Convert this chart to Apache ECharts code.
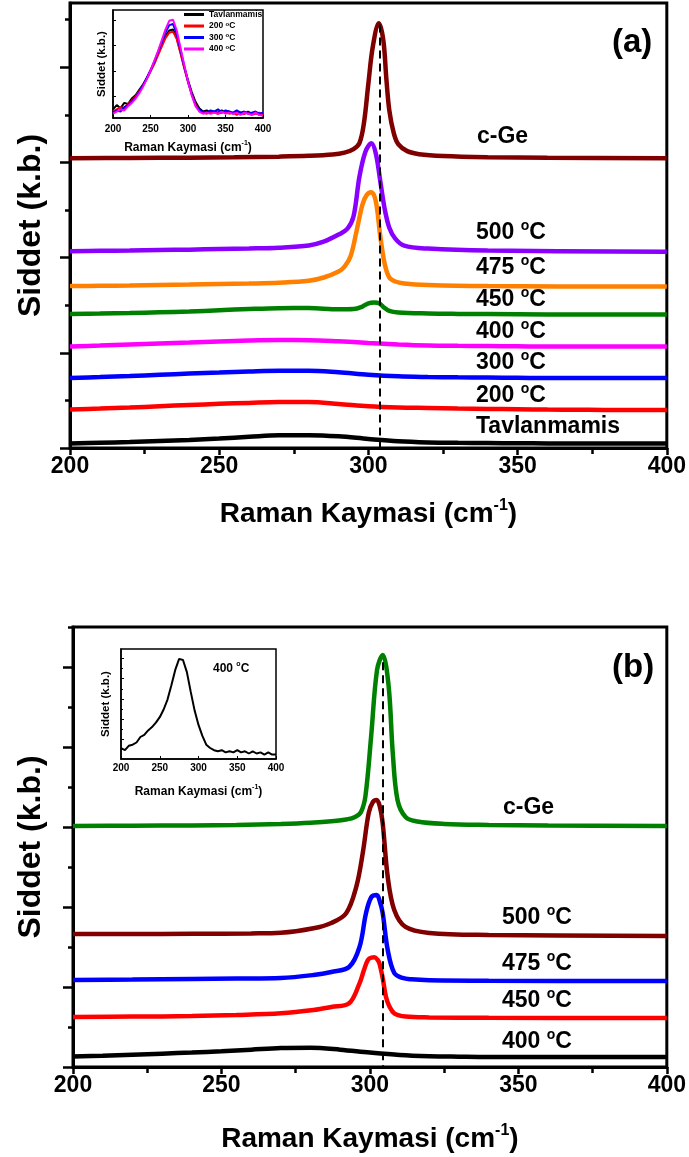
<!DOCTYPE html>
<html>
<head>
<meta charset="utf-8">
<script src="https://cdn.jsdelivr.net/npm/echarts@6/dist/echarts.min.js"></script>
<style>
  html, body { margin: 0; padding: 0; background: #fff; }
  #chart { width: 689px; height: 1157px; }
</style>
</head>
<body>
<div id="chart"></div>
<script>
const FONT = '"Liberation Sans", Arial, Helvetica, sans-serif';

// ---------- Panel (a): main Raman spectra (stacked, arbitrary units) ----------
const broadX = [200, 210, 220, 230, 240, 250, 260, 270, 280, 290, 300, 310, 320, 330, 340, 350, 360, 370, 380, 390, 400];
const aTavY = [0, 8, 16, 26, 37, 53, 70, 86, 88, 76, 48, 24, 12, 7, 5, 3, 1, 0, 0, 0, 0];
const a200Y = [5, 15, 26, 40, 53, 65, 75, 84, 83, 64, 40, 27, 21, 15, 11, 8, 5, 3, 0, 0, 0];
const a300Y = [0, 10, 21, 34, 47, 58, 69, 77, 77, 60, 35, 18, 11, 7, 5, 3, 0, 0, 0, 0, 0];
const a400Y = [0, 10, 21, 32, 42, 53, 63, 68, 67, 55, 38, 22, 11, 7, 5, 3, 0, 0, 0, 0, 0];
const a450X = [200, 210, 220, 230, 240, 250, 260, 270, 280, 290, 295, 298, 300, 302, 303.5, 305, 307, 310, 320, 330, 340, 360, 380, 400];
const a450Y = [5, 10, 16, 24, 32, 45, 58, 67, 68, 55, 58, 84, 118, 126, 120, 80, 38, 21, 11, 7, 5, 0, 0, 0];
const a475X = [200, 210, 220, 230, 240, 250, 260, 270, 280, 285, 290, 292, 294, 296, 298, 299.5, 301, 302.5, 304, 305.5, 307, 309, 312, 320, 340, 400];
const a475Y = [5, 8, 11, 16, 21, 27, 32, 40, 60, 95, 158, 210, 315, 578, 861, 966, 992, 893, 525, 231, 95, 53, 32, 16, 5, 0];
const a500X = [200, 210, 220, 230, 240, 250, 260, 270, 280, 285, 290, 293, 295, 297, 299, 301, 302.5, 304, 305.5, 307, 309, 312, 320, 340, 400];
const a500Y = [5, 8, 11, 16, 21, 27, 33, 42, 65, 105, 179, 242, 368, 788, 1050, 1139, 1029, 735, 441, 252, 137, 63, 32, 11, 0];
const aGeX = [200, 220, 240, 255, 270, 280, 288, 292, 295, 297, 298.5, 300, 301.5, 303.5, 305, 306, 307, 308.5, 310, 313, 317, 325, 340, 360, 400];
const aGeY = [0, 2, 5, 9, 16, 24, 38, 58, 95, 158, 368, 788, 1176, 1418, 1239, 840, 504, 263, 147, 74, 42, 22, 10, 5, 0];
// vertical offsets of the stacked curves
const aOffsets = { tav: 47, t200: 399, t300: 735, t400: 1066, t450: 1402, t475: 1696, t500: 2063, ge: 3045 };
const aPeakLine = 303.8;

// ---------- Panel (a) inset: unshifted low-temperature spectra ----------
const insShift = [200, 205, 210, 215, 220, 225, 230, 235, 240, 245, 250, 255, 260, 265, 270, 275, 280, 285, 290, 295, 300,
                  305, 310, 315, 320, 325, 330, 335, 340, 345, 350, 355, 360, 365, 370, 375, 380, 385, 390, 395, 400];
const insTav = [0.08, 0.12, 0.09, 0.14, 0.13, 0.18, 0.21, 0.26, 0.31, 0.37, 0.44, 0.51, 0.60, 0.68, 0.76, 0.81, 0.82, 0.74, 0.61, 0.47, 0.35,
                0.24, 0.15, 0.09, 0.06, 0.07, 0.05, 0.06, 0.05, 0.07, 0.05, 0.06, 0.04, 0.06, 0.05, 0.04, 0.06, 0.04, 0.05, 0.03, 0.04];
const ins200 = [0.06, 0.08, 0.10, 0.09, 0.13, 0.16, 0.20, 0.25, 0.30, 0.36, 0.43, 0.50, 0.58, 0.66, 0.74, 0.79, 0.80, 0.73, 0.60, 0.46, 0.33,
                0.22, 0.13, 0.07, 0.05, 0.04, 0.06, 0.05, 0.04, 0.05, 0.06, 0.04, 0.05, 0.03, 0.05, 0.04, 0.05, 0.03, 0.04, 0.05, 0.03];
const ins300 = [0.05, 0.07, 0.06, 0.10, 0.12, 0.15, 0.19, 0.24, 0.30, 0.37, 0.44, 0.52, 0.61, 0.70, 0.79, 0.86, 0.87, 0.78, 0.63, 0.48, 0.34,
                0.22, 0.12, 0.07, 0.06, 0.05, 0.07, 0.06, 0.08, 0.05, 0.07, 0.06, 0.05, 0.07, 0.05, 0.06, 0.04, 0.05, 0.06, 0.04, 0.05];
const ins400 = [0.04, 0.06, 0.08, 0.07, 0.11, 0.14, 0.18, 0.23, 0.29, 0.36, 0.44, 0.53, 0.62, 0.72, 0.82, 0.90, 0.91, 0.81, 0.65, 0.49, 0.34,
                0.21, 0.11, 0.06, 0.04, 0.05, 0.04, 0.05, 0.04, 0.06, 0.04, 0.05, 0.04, 0.05, 0.03, 0.05, 0.04, 0.03, 0.05, 0.03, 0.02];

// ---------- Panel (b): main Raman spectra ----------
const b400Y = [6, 15, 28, 42, 56, 72, 92, 112, 116, 92, 55, 25, 10, 4, 0, 0, 0, 0, 0, 0, 0];
const b450X = [200, 220, 240, 255, 270, 281, 287, 293, 296.5, 298, 299.3, 300.5, 301.5, 302.5, 303.2, 304.3, 305.4, 306.5, 308.2, 312, 320, 340, 400];
const b450Y = [13, 18, 25, 38, 59, 100, 138, 184, 434, 600, 725, 756, 759, 731, 684, 500, 266, 150, 59, 19, 8, 3, 0];
const b475X = [200, 220, 240, 255, 270, 281, 287, 293, 296.5, 298.7, 300.5, 302.3, 303.3, 304.3, 306, 308.2, 311, 314, 320, 340, 400];
const b475Y = [13, 18, 25, 31, 38, 75, 113, 175, 425, 850, 1050, 1075, 1000, 850, 388, 100, 38, 21, 10, 3, 0];
const b500X = [200, 220, 240, 260, 270, 281, 287, 292, 295.4, 297.6, 299.6, 301, 302.3, 303.3, 304.3, 306, 308.2, 312, 320, 340, 400];
const b500Y = [25, 25, 27, 32, 40, 96, 163, 284, 613, 1038, 1538, 1675, 1700, 1625, 1413, 738, 325, 113, 38, 13, 0];
const bGeX = [200, 220, 240, 255, 270, 280, 288, 292, 295, 297, 298.5, 300.4, 302.4, 304.3, 306.3, 307.7, 309.3, 312, 316, 325, 340, 360, 400];
const bGeY = [0, 3, 6, 12, 25, 40, 62, 81, 113, 175, 375, 1113, 1950, 2138, 1750, 913, 325, 113, 55, 25, 13, 6, 0];
const bOffsets = { t400: 125, t450: 612, t475: 1075, t500: 1638, ge: 3013 };
const bPeakLine = 304.2;

// ---------- Panel (b) inset: 400 °C spectrum ----------
const insB400 = [0.10, 0.08, 0.12, 0.13, 0.15, 0.20, 0.22, 0.26, 0.29, 0.33, 0.38, 0.45, 0.54, 0.67, 0.81, 0.91, 0.90, 0.79, 0.61, 0.44, 0.31,
                 0.21, 0.13, 0.10, 0.08, 0.07, 0.08, 0.06, 0.07, 0.06, 0.08, 0.06, 0.07, 0.05, 0.07, 0.05, 0.06, 0.04, 0.06, 0.04, 0.04];

// axis ticks
const xTicks = { min: 200, max: 400, step: 50 };
const aMajor = [0, 1000, 2000, 3000, 4000];
const aMinor = [500, 1500, 2500, 3500, 4500];
const bMajor = [0, 1000, 2000, 3000, 4000, 5000];
const bMinor = [500, 1500, 2500, 3500, 4500, 5500];
const insAMajor = [0.20, 0.435, 0.67, 0.905];
const insBMajor = [0.18, 0.36, 0.54, 0.73, 0.92];
const insBMinor = [0.09, 0.27, 0.45, 0.635, 0.825];

const xTitle = '{a|Raman Kaymasi (cm}{s|-1}{a|)}';
const yTitle = 'Siddet (k.b.)';

function pairs(xs, ys, off) { return xs.map((x, i) => [x, (off || 0) + ys[i]]); }

function line(name, grid, data, color, width, smooth) {
  return {
    name, type: 'line', xAxisIndex: grid, yAxisIndex: grid, data,
    showSymbol: false, symbol: 'none', smooth: smooth === undefined ? 0.35 : smooth,
    lineStyle: { color, width }, itemStyle: { color },
    z: 3, silent: true, animation: false
  };
}

function titleRich(size) {
  return {
    a: { fontSize: size, fontWeight: 'bold', fontFamily: FONT, color: '#000', lineHeight: size + 4 },
    s: { fontSize: Math.round(size * 0.58), fontWeight: 'bold', fontFamily: FONT, color: '#000', verticalAlign: 'top', lineHeight: Math.round(size * 0.58) }
  };
}

function mainXAxis(grid, gap) {
  return {
    gridIndex: grid, type: 'value', min: xTicks.min, max: xTicks.max, interval: xTicks.step,
    axisLine: { show: true, onZero: false, lineStyle: { color: '#000', width: 3 } },
    axisTick: { show: true, inside: false, length: 7, lineStyle: { color: '#000', width: 2.5 } },
    minorTick: { show: true, splitNumber: 2, length: 6, lineStyle: { color: '#000', width: 2.5 } },
    splitLine: { show: false }, minorSplitLine: { show: false },
    axisLabel: { fontSize: 23, fontWeight: 'bold', fontFamily: FONT, color: '#000', margin: 7 },
    name: xTitle, nameLocation: 'middle', nameGap: gap,
    nameTextStyle: { rich: titleRich(28) }
  };
}

function mainYAxis(grid, max, major, gap) {
  return {
    gridIndex: grid, type: 'value', position: 'left', min: 0, max,
    axisLine: { show: true, onZero: false, lineStyle: { color: '#000', width: 3 } },
    axisTick: { show: true, inside: false, length: 10, customValues: major, lineStyle: { color: '#000', width: 2.5 } },
    axisLabel: { show: false }, splitLine: { show: false },
    name: yTitle, nameLocation: 'middle', nameGap: gap,
    nameTextStyle: { fontSize: 32, fontWeight: 'bold', fontFamily: FONT, color: '#000' }
  };
}

// second axis on the same grid carrying only the short (minor) ticks
function minorYAxis(grid, max, minor, len) {
  return {
    gridIndex: grid, type: 'value', position: 'left', offset: 0, min: 0, max,
    axisLine: { show: false },
    axisTick: { show: true, inside: false, length: len, customValues: minor, lineStyle: { color: '#000', width: 2.5 } },
    axisLabel: { show: false }, splitLine: { show: false }
  };
}

function insetXAxis(grid, gap, margin) {
  return {
    gridIndex: grid, type: 'value', min: xTicks.min, max: xTicks.max, interval: xTicks.step,
    axisLine: { show: true, onZero: false, lineStyle: { color: '#000', width: 1.5 } },
    axisTick: { show: true, inside: true, length: 3, lineStyle: { color: '#000', width: 1 } },
    splitLine: { show: false },
    axisLabel: { fontSize: 10, fontWeight: 'bold', fontFamily: FONT, color: '#000', margin },
    name: xTitle, nameLocation: 'middle', nameGap: gap,
    nameTextStyle: { rich: titleRich(12) }
  };
}

function insetYAxis(grid, major, gap) {
  return {
    gridIndex: grid, type: 'value', position: 'left', min: 0, max: 1,
    axisLine: { show: true, onZero: false, lineStyle: { color: '#000', width: 1.5 } },
    axisTick: { show: true, inside: true, length: 3, customValues: major, lineStyle: { color: '#000', width: 1 } },
    axisLabel: { show: false }, splitLine: { show: false },
    name: yTitle, nameLocation: 'middle', nameGap: gap,
    nameTextStyle: { fontSize: 11.5, fontWeight: 'bold', fontFamily: FONT, color: '#000' }
  };
}

function tempText(x, y, t, size) {
  return {
    type: 'text', x, y, z: 20, silent: true,
    style: {
      text: '{n|' + t + ' }{o|o}{n|C}', verticalAlign: 'middle',
      rich: {
        n: { fontSize: size, fontWeight: 'bold', fontFamily: FONT, fill: '#000', lineHeight: size + 4 },
        o: { fontSize: Math.round(size * 0.62), fontWeight: 'bold', fontFamily: FONT, fill: '#000', verticalAlign: 'top', lineHeight: Math.round(size * 0.62) }
      }
    }
  };
}
function plainText(x, y, t, size) {
  return {
    type: 'text', x, y, z: 20, silent: true,
    style: { text: t, fontSize: size, fontWeight: 'bold', fontFamily: FONT, fill: '#000', verticalAlign: 'middle' }
  };
}

function dashed(grid, x, top) {
  return {
    name: 'peak' + grid, type: 'line', xAxisIndex: grid, yAxisIndex: grid, data: [], z: 10, silent: true,
    markLine: {
      silent: true, symbol: 'none', animation: false, label: { show: false },
      lineStyle: { color: '#000', width: 2, type: [8, 5] },
      data: [[{ coord: [x, top] }, { coord: [x, 0] }]]
    }
  };
}

const chart = echarts.init(document.getElementById('chart'), null, { renderer: 'canvas' });

chart.setOption({
  animation: false,
  backgroundColor: '#fff',
  grid: [
    { left: 70, top: 3, width: 597, height: 445, show: true, borderColor: '#000', borderWidth: 3 },
    { left: 113, top: 10, width: 150, height: 108, show: true, borderColor: '#000', borderWidth: 1.5, backgroundColor: '#fff' },
    { left: 73, top: 627, width: 595, height: 440, show: true, borderColor: '#000', borderWidth: 3 },
    { left: 121, top: 649, width: 155, height: 110, show: true, borderColor: '#000', borderWidth: 1.5, backgroundColor: '#fff' }
  ],
  xAxis: [
    mainXAxis(0, 50),
    insetXAxis(1, 22, 6),
    mainXAxis(2, 56),
    insetXAxis(3, 25, 4)
  ],
  yAxis: [
    mainYAxis(0, 4675, aMajor, 23),
    insetYAxis(1, insAMajor, 5),
    mainYAxis(2, 5500, bMajor, 26),
    insetYAxis(3, insBMajor, 9),
    minorYAxis(0, 4675, aMinor, 5),
    minorYAxis(2, 5500, bMinor, 5),
    { gridIndex: 3, type: 'value', position: 'left', min: 0, max: 1, axisLine: { show: false }, axisLabel: { show: false }, splitLine: { show: false },
      axisTick: { show: true, inside: true, length: 2, customValues: insBMinor, lineStyle: { color: '#000', width: 1 } } }
  ],
  legend: {
    show: true, orient: 'vertical', left: 184, top: 10, itemWidth: 20, itemHeight: 3, itemGap: 2,
    icon: 'rect', selectedMode: false, padding: 0,
    data: ['Tavlanmamis', '200', '300', '400'],
    formatter: n => n === 'Tavlanmamis' ? '{t|Tavlanmamis}' : '{t|' + n + ' }{o|o}{t|C}',
    textStyle: {
      rich: {
        t: { fontSize: 8.5, fontWeight: 'bold', fontFamily: FONT, color: '#000', lineHeight: 10 },
        o: { fontSize: 6, fontWeight: 'bold', fontFamily: FONT, color: '#000', verticalAlign: 'top', lineHeight: 6 }
      }
    }
  },
  series: [
    // panel (a)
    line('a-tav', 0, pairs(broadX, aTavY, aOffsets.tav), '#000000', 4.5),
    line('a-200', 0, pairs(broadX, a200Y, aOffsets.t200), '#ff0000', 4.5),
    line('a-300', 0, pairs(broadX, a300Y, aOffsets.t300), '#0000ff', 4.5),
    line('a-400', 0, pairs(broadX, a400Y, aOffsets.t400), '#ff00ff', 4.5),
    line('a-450', 0, pairs(a450X, a450Y, aOffsets.t450), '#008000', 4.5),
    line('a-475', 0, pairs(a475X, a475Y, aOffsets.t475), '#ff8000', 4.5),
    line('a-500', 0, pairs(a500X, a500Y, aOffsets.t500), '#8a00ff', 4.5),
    line('a-ge', 0, pairs(aGeX, aGeY, aOffsets.ge), '#800000', 4.5),
    dashed(0, aPeakLine, 4450),
    // panel (a) inset: raw, noisy spectra drawn unsmoothed
    line('Tavlanmamis', 1, pairs(insShift, insTav), '#000000', 2, false),
    line('200', 1, pairs(insShift, ins200), '#ff0000', 2, false),
    line('300', 1, pairs(insShift, ins300), '#0000ff', 2, false),
    line('400', 1, pairs(insShift, ins400), '#ff00ff', 2, false),
    // panel (b)
    line('b-400', 2, pairs(broadX, b400Y, bOffsets.t400), '#000000', 4.5),
    line('b-450', 2, pairs(b450X, b450Y, bOffsets.t450), '#ff0000', 4.5),
    line('b-475', 2, pairs(b475X, b475Y, bOffsets.t475), '#0000ff', 4.5),
    line('b-500', 2, pairs(b500X, b500Y, bOffsets.t500), '#800000', 4.5),
    line('b-ge', 2, pairs(bGeX, bGeY, bOffsets.ge), '#008000', 4.5),
    dashed(2, bPeakLine, 5060),
    // panel (b) inset
    line('b-inset-400', 3, pairs(insShift, insB400), '#000000', 2, false)
  ],
  graphic: [
    plainText(612, 43, '(a)', 33),
    plainText(477, 137, 'c-Ge', 23),
    tempText(476, 233, '500', 23),
    tempText(476, 268, '475', 23),
    tempText(476, 300, '450', 23),
    tempText(476, 332, '400', 23),
    tempText(476, 363, '300', 23),
    tempText(476, 396, '200', 23),
    plainText(476, 427, 'Tavlanmamis', 23),

    plainText(612, 668, '(b)', 33),
    plainText(503, 808, 'c-Ge', 23),
    tempText(502, 918, '500', 23),
    tempText(502, 964, '475', 23),
    tempText(502, 1001, '450', 23),
    tempText(502, 1042, '400', 23),
    tempText(213, 669, '400', 12)
  ]
});
</script>
</body>
</html>
